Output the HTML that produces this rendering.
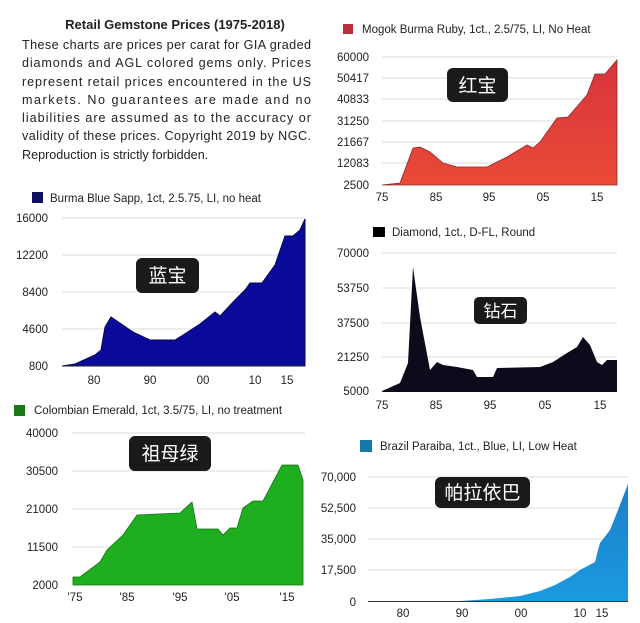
<!DOCTYPE html>
<html><head><meta charset="utf-8"><style>
html,body{margin:0;padding:0;background:#fff;}
svg{display:block;}
text{font-family:"Liberation Sans","Noto Sans CJK SC",sans-serif;fill:#222;}
.t{font-size:11.5px;}
.p{font-size:12.6px;}
.ax{font-size:11.5px;fill:#333;}
.g{stroke:#e2e2e2;stroke-width:1.2;}
.box{fill:#1a1a1a;}
.cj{font-size:19px;fill:#fff;font-family:"Noto Sans CJK SC",sans-serif;}
</style></head><body>
<svg width="640" height="623" viewBox="0 0 640 623" xmlns="http://www.w3.org/2000/svg">
<defs>
<linearGradient id="rg" x1="0" y1="0" x2="0" y2="1"><stop offset="0" stop-color="#d8343e"/><stop offset="1" stop-color="#ea4a36"/></linearGradient>
<linearGradient id="bg2" x1="0" y1="0" x2="0" y2="1"><stop offset="0" stop-color="#1e7fc8"/><stop offset="1" stop-color="#1a9ae0"/></linearGradient>
</defs>
<text x="175" y="29" text-anchor="middle" style="font-size:13px;font-weight:bold">Retail Gemstone Prices (1975-2018)</text>
<g class="p">
<text x="22" y="49" textLength="289" lengthAdjust="spacing">These charts are prices per carat for GIA graded</text>
<text x="22" y="67" textLength="289" lengthAdjust="spacing">diamonds and AGL colored gems only. Prices</text>
<text x="22" y="86" textLength="289" lengthAdjust="spacing">represent retail prices encountered in the US</text>
<text x="22" y="104" textLength="289" lengthAdjust="spacing">markets.    No guarantees are made and no</text>
<text x="22" y="122" textLength="289" lengthAdjust="spacing">liabilities are assumed as to the accuracy or</text>
<text x="22" y="140" textLength="289" lengthAdjust="spacing">validity of these prices.  Copyright 2019 by NGC.</text>
<text x="22" y="159">Reproduction is strictly forbidden.</text>
</g>

<rect x="32" y="192" width="11" height="11" fill="#101060"/>
<text x="50" y="202" class="t">Burma Blue Sapp, 1ct, 2.5.75, LI, no heat</text>
<g class="g"><line x1="62" y1="218" x2="305" y2="218"/><line x1="62" y1="255" x2="305" y2="255"/><line x1="62" y1="292" x2="305" y2="292"/><line x1="62" y1="329" x2="305" y2="329"/></g>
<g class="ax" text-anchor="end"><text x="48" y="222">16000</text><text x="48" y="259">12200</text><text x="48" y="296">8400</text><text x="48" y="333">4600</text><text x="48" y="370">800</text></g>
<polygon fill="#0a0a9a" stroke="#060650" stroke-width="1" points="62,366 75,364 95,355 101,350 105,327 111,317 130,330 135,333 150,340 175,340 183,335 200,324 215,312 220,316 235,300 245,290 250,283 262,283 275,265 285,236 293,236 300,230 305,219 305,366"/>
<line x1="62" y1="366" x2="305" y2="366" stroke="#222" stroke-width="1"/>
<g class="ax" text-anchor="middle"><text x="94" y="384">80</text><text x="150" y="384">90</text><text x="203" y="384">00</text><text x="255" y="384">10</text><text x="287" y="384">15</text></g>
<rect class="box" x="136" y="258" width="63" height="35" rx="6"/>
<text class="cj" x="167.5" y="282" text-anchor="middle">蓝宝</text>

<rect x="343" y="24" width="10" height="10" fill="#b8303c"/>
<text x="362" y="33" class="t">Mogok Burma Ruby, 1ct., 2.5/75, LI, No Heat</text>
<g class="g"><line x1="382" y1="57" x2="617" y2="57"/><line x1="382" y1="78" x2="617" y2="78"/><line x1="382" y1="99" x2="617" y2="99"/><line x1="382" y1="121" x2="617" y2="121"/><line x1="382" y1="142" x2="617" y2="142"/><line x1="382" y1="163" x2="617" y2="163"/></g>
<g class="ax" text-anchor="end"><text x="369" y="61">60000</text><text x="369" y="82">50417</text><text x="369" y="103">40833</text><text x="369" y="125">31250</text><text x="369" y="146">21667</text><text x="369" y="167">12083</text><text x="369" y="189">2500</text></g>
<polygon fill="url(#rg)" stroke="#8a2a30" stroke-width="0.8" points="382,185 400,183 413,148 420,147 430,152 443,163 457,167 487,167 507,157 527,145 533,148 540,142 557,118 568,117 587,95 595,74 605,74 617,60 617,185"/>
<g class="ax" text-anchor="middle"><text x="382" y="201">75</text><text x="436" y="201">85</text><text x="489" y="201">95</text><text x="543" y="201">05</text><text x="597" y="201">15</text></g>
<rect class="box" x="447" y="68" width="61" height="34" rx="6"/>
<text class="cj" x="477.5" y="92" text-anchor="middle">红宝</text>

<rect x="373" y="227" width="12" height="10" fill="#000"/>
<text x="392" y="236" class="t">Diamond, 1ct., D-FL, Round</text>
<g class="g"><line x1="382" y1="253" x2="617" y2="253"/><line x1="382" y1="288" x2="617" y2="288"/><line x1="382" y1="323" x2="617" y2="323"/><line x1="382" y1="357" x2="617" y2="357"/></g>
<g class="ax" text-anchor="end"><text x="369" y="257">70000</text><text x="369" y="292">53750</text><text x="369" y="327">37500</text><text x="369" y="361">21250</text><text x="369" y="395">5000</text></g>
<polygon fill="#0b0b1c" points="382,391 400,383 408,363 413,267 420,317 430,370 437,362 443,365 457,367 473,370 477,377 493,377 497,368 540,367 553,362 567,353 577,347 583,337 590,345 597,362 602,365 607,360 617,360 617,392 382,392"/>
<g class="ax" text-anchor="middle"><text x="382" y="409">75</text><text x="436" y="409">85</text><text x="490" y="409">95</text><text x="545" y="409">05</text><text x="600" y="409">15</text></g>
<rect class="box" x="474" y="297" width="53" height="27" rx="5"/>
<text class="cj" x="500.5" y="317" text-anchor="middle" style="font-size:17px">钻石</text>

<rect x="14" y="405" width="11" height="11" fill="#1a7a1a"/>
<text x="34" y="414" class="t">Colombian Emerald, 1ct, 3.5/75, LI, no treatment</text>
<g class="g"><line x1="72" y1="433" x2="305" y2="433"/><line x1="72" y1="471" x2="305" y2="471"/><line x1="72" y1="509" x2="305" y2="509"/><line x1="72" y1="547" x2="305" y2="547"/></g>
<g class="ax" text-anchor="end"><text x="58" y="437">40000</text><text x="58" y="475">30500</text><text x="58" y="513">21000</text><text x="58" y="551">11500</text><text x="58" y="589">2000</text></g>
<polygon fill="#1fae1f" stroke="#147014" stroke-width="0.8" points="73,585 73,577 80,577 100,562 107,550 123,535 137,515 180,513 192,502 197,529 218,529 223,535 230,528 237,528 243,508 253,501 263,501 282,465 298,465 303,480 303,585"/>
<g class="ax" text-anchor="middle"><text x="75" y="601">'75</text><text x="127" y="601">'85</text><text x="180" y="601">'95</text><text x="232" y="601">'05</text><text x="287" y="601">'15</text></g>
<rect class="box" x="129" y="436" width="82" height="35" rx="6"/>
<text class="cj" x="170" y="460" text-anchor="middle">祖母绿</text>

<rect x="360" y="440" width="12" height="12" fill="#157aa8"/>
<text x="380" y="450" class="t">Brazil Paraiba, 1ct., Blue, LI, Low Heat</text>
<g class="g"><line x1="368" y1="477" x2="628" y2="477"/><line x1="368" y1="508" x2="628" y2="508"/><line x1="368" y1="539" x2="628" y2="539"/><line x1="368" y1="570" x2="628" y2="570"/></g>
<g class="ax" text-anchor="end"><text x="356" y="481">70,000</text><text x="356" y="512">52,500</text><text x="356" y="543">35,000</text><text x="356" y="574">17,500</text><text x="356" y="606">0</text></g>
<polygon fill="url(#bg2)" points="368,601 460,601 490,599 520,596 540,591 555,585 570,577 580,570 595,562 598,550 600,543 610,530 618,510 628,484 628,601"/>
<line x1="368" y1="601.5" x2="628" y2="601.5" stroke="#333" stroke-width="1"/>
<g class="ax" text-anchor="middle"><text x="403" y="617">80</text><text x="462" y="617">90</text><text x="521" y="617">00</text><text x="580" y="617">10</text><text x="602" y="617">15</text></g>
<rect class="box" x="435" y="477" width="95" height="31" rx="6"/>
<text class="cj" x="482.5" y="499" text-anchor="middle">帕拉依巴</text>
</svg>
</body></html>
